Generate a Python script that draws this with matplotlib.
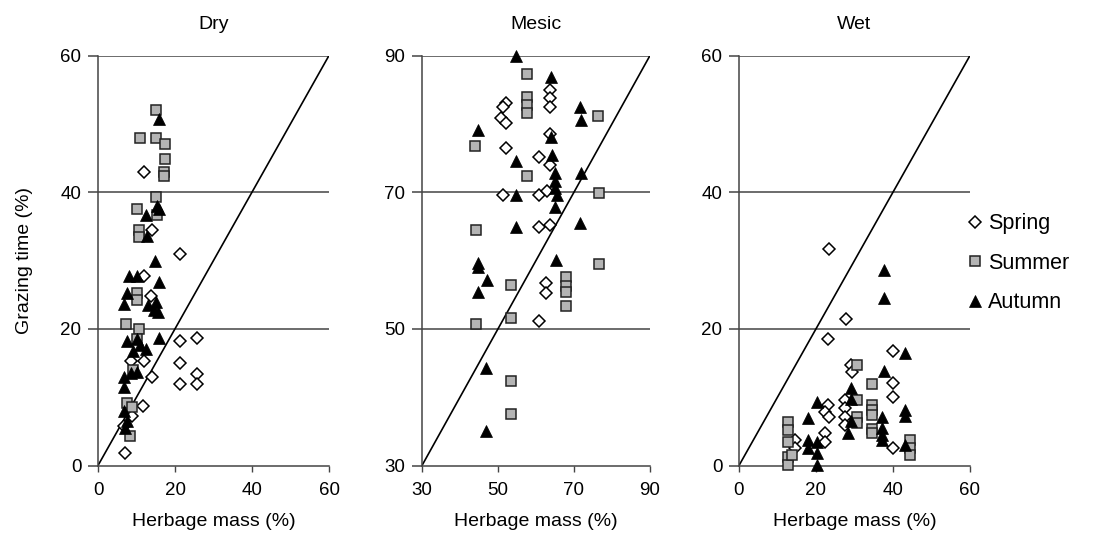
import matplotlib
matplotlib.use("Agg")
import matplotlib.pyplot as plt
from matplotlib.lines import Line2D

plt.rcParams['font.family'] = ['Liberation Sans', 'DejaVu Sans']

# Herbage mass (%) vs grazing time (%)
dry_spring_x = [11.9, 14.1, 21.2, 11.9, 13.7, 21.2, 25.7, 8.5, 11.9, 21.2, 14.1, 21.2, 25.7, 25.7, 8.9, 11.8, 6.8, 7.0]
dry_spring_y = [42.9, 34.4, 30.9, 27.8, 24.8, 18.2, 18.7, 15.3, 15.3, 15.0, 12.9, 11.9, 13.4, 11.9, 7.2, 8.7, 5.8, 1.9]
dry_summer_x = [15.0, 10.8, 15.1, 17.3, 17.3, 17.1, 17.1, 15.1, 10.2, 15.4, 10.6, 10.6, 10.2, 10.2, 7.2, 10.6, 10.2, 9.0, 7.6, 8.8, 8.3]
dry_summer_y = [52.0, 48.0, 48.0, 47.1, 44.9, 42.9, 42.4, 39.3, 37.5, 36.7, 34.4, 33.4, 25.3, 24.2, 20.7, 20.0, 18.5, 14.0, 9.2, 8.5, 4.3]
dry_autumn_x = [15.8, 15.4, 15.8, 12.4, 12.8, 14.9, 8.1, 10.2, 15.8, 7.6, 6.8, 13.0, 14.5, 15.0, 15.5, 15.8, 7.6, 10.0, 11.0, 12.4, 9.0, 8.5, 10.0, 6.8, 6.8, 6.8, 7.5, 7.0]
dry_autumn_y = [50.7, 38.0, 37.5, 36.7, 33.6, 30.0, 27.8, 27.8, 26.9, 25.3, 23.6, 23.5, 22.8, 23.9, 22.4, 18.7, 18.2, 18.5, 17.6, 17.0, 16.7, 13.5, 13.7, 13.0, 11.5, 8.0, 6.5, 5.5]

mesic_spring_x = [63.6, 63.6, 63.6, 52.2, 51.3, 50.9, 52.2, 63.6, 52.2, 60.8, 63.6, 51.3, 60.8, 62.9, 60.8, 63.6, 62.7, 62.7, 60.8]
mesic_spring_y = [85.0, 83.8, 82.5, 83.0, 82.5, 80.8, 80.1, 78.5, 76.5, 75.1, 74.0, 69.6, 69.6, 70.1, 64.9, 65.2, 56.7, 55.2, 51.1]
mesic_summer_x = [57.6, 57.6, 57.6, 57.6, 76.3, 43.9, 57.6, 76.5, 44.1, 53.5, 76.5, 68.0, 68.0, 68.0, 68.0, 44.1, 53.5, 53.5, 53.5]
mesic_summer_y = [87.3, 84.0, 82.8, 81.6, 81.1, 76.7, 72.3, 69.9, 64.4, 56.4, 59.5, 57.6, 56.2, 55.4, 53.4, 50.7, 51.6, 42.4, 37.6]
mesic_autumn_x = [54.8, 64.0, 71.5, 71.9, 44.8, 64.0, 54.8, 64.3, 64.9, 71.9, 64.9, 64.9, 54.8, 65.4, 64.9, 54.7, 71.7, 65.2, 44.8, 44.8, 47.0, 44.8, 46.8, 46.8]
mesic_autumn_y = [90.0, 86.9, 82.5, 80.6, 79.1, 78.1, 74.5, 75.5, 72.8, 72.8, 71.6, 70.6, 69.6, 69.6, 67.9, 64.9, 65.5, 60.1, 59.6, 59.0, 57.2, 55.4, 44.2, 35.0]

wet_spring_x = [23.4, 27.8, 23.2, 40.1, 29.1, 29.3, 40.1, 40.1, 27.5, 27.5, 27.5, 27.5, 23.2, 22.3, 23.4, 22.3, 22.3, 14.5, 14.5, 40.1]
wet_spring_y = [31.7, 21.5, 18.5, 16.8, 14.7, 13.7, 12.1, 10.0, 9.6, 8.4, 7.1, 6.0, 8.9, 7.9, 7.1, 4.7, 3.5, 3.7, 2.5, 2.5]
wet_summer_x = [30.6, 34.5, 30.6, 30.6, 30.6, 34.5, 34.5, 34.5, 34.5, 34.5, 44.4, 44.4, 44.4, 12.8, 12.8, 12.8, 12.8, 12.8, 13.8]
wet_summer_y = [14.7, 12.0, 9.6, 7.1, 6.2, 8.9, 8.1, 7.4, 5.4, 4.7, 3.7, 2.5, 1.5, 6.4, 5.2, 3.5, 1.3, 0.1, 1.5]
wet_autumn_x = [37.7, 37.7, 43.1, 37.7, 29.1, 29.1, 28.4, 29.1, 20.2, 18.0, 37.1, 37.1, 37.1, 37.1, 43.1, 43.1, 43.1, 18.0, 18.0, 20.2, 20.2, 20.2]
wet_autumn_y = [28.6, 24.5, 16.5, 13.9, 11.3, 9.8, 4.7, 6.5, 9.3, 6.9, 7.1, 5.5, 4.5, 3.7, 8.1, 7.2, 3.0, 3.7, 2.5, 3.5, 1.8, 0.1]

panels = [
    ('Dry', (0, 60), [0, 20, 40, 60],
     (dry_spring_x, dry_spring_y), (dry_summer_x, dry_summer_y), (dry_autumn_x, dry_autumn_y)),
    ('Mesic', (30, 90), [30, 50, 70, 90],
     (mesic_spring_x, mesic_spring_y), (mesic_summer_x, mesic_summer_y), (mesic_autumn_x, mesic_autumn_y)),
    ('Wet', (0, 60), [0, 20, 40, 60],
     (wet_spring_x, wet_spring_y), (wet_summer_x, wet_summer_y), (wet_autumn_x, wet_autumn_y)),
]

# marker styles for the seasons
spring_style = dict(marker='D', ms=6.5, mfc='white', mec='black', mew=1.1, ls='none')
summer_style = dict(marker='s', ms=6.8, mfc='#b4b4b4', mec='#222222', mew=1.1, ls='none')
autumn_style = dict(marker='^', ms=8.8, mfc='black', mec='black', mew=0.5, ls='none')

grid_color = '#444444'
fs = 13.5
fig = plt.figure(figsize=(11.02, 5.42), dpi=100)
lefts = [98 / 1102, 422 / 1102, 739 / 1102]
widths = [231 / 1102, 228 / 1102, 231 / 1102]
bottom = (542 - 465.5) / 542
height = 410 / 542

for i, (title, lim, ticks, sp, su, au) in enumerate(panels):
    ax = fig.add_axes([lefts[i], bottom, widths[i], height])
    ax.set_xlim(lim)
    ax.set_ylim(lim)
    ax.set_xticks(ticks)
    ax.set_yticks(ticks)
    for t in ticks[1:]:
        ax.axhline(t, color=grid_color, lw=1.1, zorder=1)
    ax.plot(lim, lim, color='black', lw=1.2, zorder=2)

    ax.plot(sp[0], sp[1], zorder=3, clip_on=False, **spring_style)
    ax.plot(su[0], su[1], zorder=4, clip_on=False, **summer_style)
    ax.plot(au[0], au[1], zorder=5, clip_on=False, **autumn_style)

    for s in ['top', 'right']:
        ax.spines[s].set_visible(False)
    for s in ['left', 'bottom']:
        ax.spines[s].set_color(grid_color)
        ax.spines[s].set_linewidth(1.1)
    ax.tick_params(axis='y', length=7, width=1.1, color=grid_color, pad=5, labelsize=fs)
    ax.tick_params(axis='x', length=4, width=1.0, color=grid_color, pad=8, labelsize=fs)
    ax.set_title(title, fontsize=fs + 0.5, pad=19)
    ax.set_xlabel('Herbage mass (%)', fontsize=fs + 0.5, labelpad=10)
    if i == 0:
        ax.set_ylabel('Grazing time (%)', fontsize=fs + 0.5, labelpad=20)

handles = [Line2D([], [], **spring_style), Line2D([], [], **summer_style), Line2D([], [], **autumn_style)]
fig.legend(handles, ['Spring', 'Summer', 'Autumn'], loc='upper left',
           bbox_to_anchor=(0.871, 0.622), frameon=False, fontsize=15.5,
           handlelength=0.6, handletextpad=0.3, labelspacing=0.85, borderaxespad=0)

fig.savefig('out.png', dpi=100)
